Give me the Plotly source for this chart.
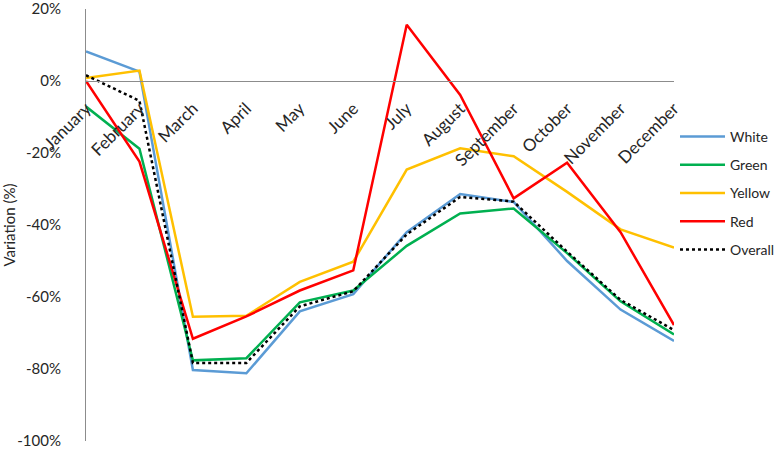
import plotly.graph_objects as go

months = ["January", "February", "March", "April", "May", "June", "July",
          "August", "September", "October", "November", "December"]

white = [8.2, 2.6, -80.3, -81.2, -64.0, -59.2, -42.0, -31.4, -33.6, -50.0, -63.5, -72.2]
green = [-7.1, -18.8, -77.6, -77.0, -61.5, -58.2, -45.8, -36.8, -35.4, -47.8, -61.2, -70.4]
yellow = [0.8, 2.9, -65.5, -65.2, -55.8, -50.2, -24.6, -18.7, -20.9, -30.8, -41.2, -46.3]
red = [0.0, -22.4, -71.6, -65.4, -58.2, -52.6, 15.6, -3.9, -32.6, -22.7, -42.0, -67.8]
overall = [1.6, -5.5, -78.3, -78.3, -62.6, -58.4, -42.6, -32.2, -33.5, -47.4, -60.8, -69.2]

series = [
    ("White", white, "#5B9BD5", "solid"),
    ("Green", green, "#00B050", "solid"),
    ("Yellow", yellow, "#FFC000", "solid"),
    ("Red", red, "#FF0000", "solid"),
    ("Overall", overall, "#000000", "dot"),
]

y_ticks = [20, 0, -20, -40, -60, -80, -100]
y_tick_text = ["20%", "0%", "-20%", "-40%", "-60%", "-80%", "-100%"]

FONT = "Lato"
fig = go.Figure()
for name, vals, color, dash in series:
    fig.add_trace(go.Scatter(
        x=months, y=vals, name=name, mode="lines", legendgroup=name,
        line=dict(color=color, width=2.5, dash=dash),
    ))

W, H = 778, 449
y_min, y_max = -100, 20
fig.update_layout(
    width=W, height=H,
    margin=dict(l=86, r=104, t=9, b=8),
    plot_bgcolor="white", paper_bgcolor="white",
    font=dict(family=FONT, size=14, color="#262626"),
    showlegend=True,
    legend=dict(xref="container", yref="container",
                x=675 / W, y=1 - 121 / H, xanchor="left", yanchor="top",
                font=dict(size=14, color="#262626"), tracegroupgap=7,
                itemwidth=45,
                bgcolor="rgba(0,0,0,0)"),
    xaxis=dict(
        type="category", range=[0, len(months) - 1], automargin=False,
        anchor="free", position=(0 - y_min) / (y_max - y_min),
        showline=True, linecolor="#8c8c8c", linewidth=1,
        showgrid=False, zeroline=False, ticks="", tickangle=-45,
        ticklabelstandoff=10,
        tickfont=dict(size=17, color="#262626"),
    ),
    yaxis=dict(
        range=[y_min, y_max], tickvals=y_ticks, ticktext=y_tick_text,
        automargin=False, ticklabeloverflow="allow",
        showline=True, linecolor="#8c8c8c", linewidth=1,
        showgrid=False, zeroline=False, ticks="", ticklabelstandoff=21,
        tickfont=dict(size=15, color="#262626"),
        title=dict(text="Variation (%)", font=dict(size=15, color="#262626"), standoff=2),
    ),
)

fig.write_html("out.html", config={"displayModeBar": False},
               post_script="document.body.style.margin='0';")
